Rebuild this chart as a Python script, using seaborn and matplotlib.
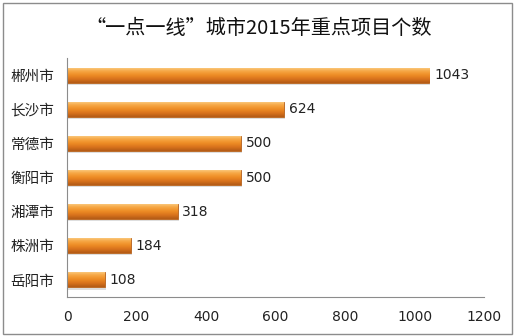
import matplotlib
matplotlib.use("Agg")
import matplotlib.pyplot as plt
import seaborn as sns
import numpy as np
import pandas as pd
from matplotlib.patches import Rectangle
from matplotlib.colors import LinearSegmentedColormap

cities = ["郴州市", "长沙市", "常德市", "衡阳市", "湘潭市", "株洲市", "岳阳市"]
values = [1043, 624, 500, 500, 318, 184, 108]
x_ticks = [0, 200, 400, 600, 800, 1000, 1200]
title = "“一点一线”城市2015年重点项目个数"

sns.set_style("white")
plt.rcParams['font.family'] = ['Noto Sans CJK SC', 'DejaVu Sans']

df = pd.DataFrame({"city": cities, "value": values})

fig = plt.figure(figsize=(5.17, 3.36), dpi=100)
fig.patch.set_facecolor("white")
fig.patches.append(Rectangle((0.006, 0.006), 0.984, 0.985, transform=fig.transFigure,
                             fill=False, edgecolor="#8c8c8c", linewidth=1.0))
ax = fig.add_axes([0.1296, 0.116, 0.9362 - 0.1296, 0.827 - 0.116])

sns.barplot(data=df, x="value", y="city", orient="h", color="#F0922A",
            width=0.44, ax=ax, edgecolor="none")

cmap = LinearSegmentedColormap.from_list(
    "bar", ["#FCD08A", "#F6A744", "#EE8D25", "#D9731C", "#B25A16"])
grad = np.linspace(0, 1, 100).reshape(-1, 1)
for p in list(ax.patches):
    x0, y0 = p.get_x(), p.get_y()
    w, h = p.get_width(), p.get_height()
    sh = Rectangle((x0 + 3, y0 + 0.06), w, h, facecolor="#c9c9c9", edgecolor="none",
                   alpha=0.6, zorder=1)
    ax.add_patch(sh)
    im = ax.imshow(grad, extent=(x0, x0 + w, y0 + h, y0), aspect="auto",
                   cmap=cmap, zorder=2, interpolation="bicubic")
    im.set_clip_path(p)
    p.set_zorder(2)
    p.set_edgecolor("#B8621C")
    p.set_linewidth(0.6)

for i, v in enumerate(values):
    ax.text(v + 14, i, str(v), va="center", ha="left", fontsize=10,
            color="#222222", family=['DejaVu Sans'])

ax.set_xlim(0, 1200)
ax.set_ylim(len(cities) - 0.5, -0.5)
ax.set_xticks(x_ticks)
ax.set_xticklabels([str(t) for t in x_ticks], fontsize=10, color="#222222",
                   family=['DejaVu Sans'])
ax.set_yticks(range(len(cities)))
ax.set_yticklabels(cities, fontsize=10.5, color="#222222")
ax.set_yticks(np.arange(-0.5, len(cities) + 0.5, 1), minor=True)
ax.tick_params(axis="y", which="major", length=0, pad=9)
ax.tick_params(axis="y", which="minor", length=5, color="#8c8c8c", width=0.8,
               direction="out")
ax.tick_params(axis="x", which="major", length=5, color="#8c8c8c", width=0.8,
               direction="out", pad=4)
ax.set_xlabel("")
ax.set_ylabel("")
for s in ["top", "right"]:
    ax.spines[s].set_visible(False)
for s in ["left", "bottom"]:
    ax.spines[s].set_color("#8c8c8c")
    ax.spines[s].set_linewidth(0.8)
ax.grid(False)

fig.text(0.5, 0.915, title, ha="center", va="center", fontsize=14.5,
         color="#111111", fontweight="normal")

fig.savefig("out.png", dpi=100)
